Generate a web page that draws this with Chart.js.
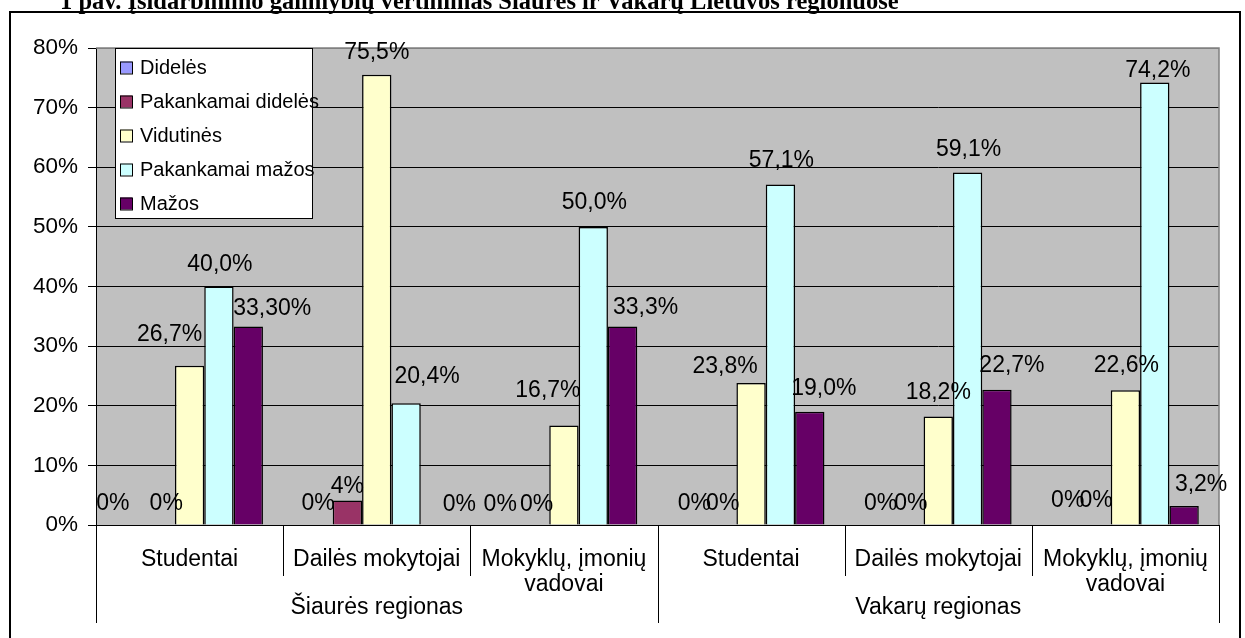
<!DOCTYPE html>
<html><head><meta charset="utf-8">
<script src="https://cdn.jsdelivr.net/npm/chart.js@4.4.1/dist/chart.umd.min.js"></script>
<style>html,body{margin:0;padding:0;background:#fff;} #wrap{position:relative;width:1245px;height:638px;overflow:hidden}</style>
</head><body><div id="wrap"><canvas id="c" width="1245" height="638"></canvas></div>
<script>
// ---- data ----
const chartTitle = '1 pav. Įsidarbinimo galimybių vertinimas Šiaurės ir Vakarų Lietuvos regionuose';
const categories = [['Studentai'], ['Dailės mokytojai'], ['Mokyklų, įmonių', 'vadovai'], ['Studentai'], ['Dailės mokytojai'], ['Mokyklų, įmonių', 'vadovai']];
const regions = ['Šiaurės regionas', 'Vakarų regionas'];
const regionSpans = [3, 3];
const seriesNames = ['Didelės', 'Pakankamai didelės', 'Vidutinės', 'Pakankamai mažos', 'Mažos'];
const didele = [0, 0, 0, 0, 0, 0];
const pakDidele = [0, 4.1, 0, 0, 0, 0];
const vidutine = [26.7, 75.5, 16.7, 23.8, 18.2, 22.6];
const pakMazos = [40.0, 20.4, 50.0, 57.1, 59.1, 74.2];
const mazos = [33.3, 0, 33.3, 19.0, 22.7, 3.2];
const lblDidele = ['0%', '0%', '0%', '0%', '0%', '0%'];
const lblPakDidele = ['0%', '4%', '0%', '0%', '0%', '0%'];
const lblVidutine = ['26,7%', '75,5%', '16,7%', '23,8%', '18,2%', '22,6%'];
const lblPakMazos = ['40,0%', '20,4%', '50,0%', '57,1%', '59,1%', '74,2%'];
const lblMazos = ['33,30%', '0%', '33,3%', '19,0%', '22,7%', '3,2%'];
const yTickLabels = ['0%', '10%', '20%', '30%', '40%', '50%', '60%', '70%', '80%'];

// ---- styles ----
const colors = ['#9999FF', '#993366', '#FFFFCC', '#CCFFFF', '#660066'];
const FONT = '"Liberation Sans", Arial, sans-serif';
// label nudges [dx, dy] per series per category (placement of data labels only)
const labelNudge = [
  [[-18, 1], [0, 1], [-5, 2], [2, 1], [1, 1], [1, -2]],
  [[6, 1], [0, 8.5], [2, 2], [1, 1], [2, 1], [0, -2]],
  [[-20, -9], [0, 0], [-16, -12.5], [-26, 6], [0, -1.5], [1, -2]],
  [[1, 0], [21, -4], [1, -2], [1, -1.5], [1, -0.5], [3, 10]],
  [[24, 4.5], [24, 2], [23, 3.5], [14, -1], [15, -1.7], [17, 1]]
];
const seriesValues = [didele, pakDidele, vidutine, pakMazos, mazos];
const seriesLabels = [lblDidele, lblPakDidele, lblVidutine, lblPakMazos, lblMazos];

const bgPlugin = {
  id: 'bg',
  beforeDraw(chart) {
    const { ctx, chartArea: a } = chart;
    ctx.save();
    ctx.fillStyle = '#fff';
    ctx.fillRect(0, 0, chart.width, chart.height);
    ctx.fillStyle = '#C0C0C0';
    ctx.fillRect(a.left, a.top, a.right - a.left, a.bottom - a.top);
    ctx.restore();
  },
  beforeDatasetsDraw(chart) {
    const { ctx, chartArea: a } = chart;
    ctx.save();
    ctx.strokeStyle = '#808080';
    ctx.lineWidth = 1.5;
    ctx.beginPath();
    ctx.moveTo(a.left, a.top);
    ctx.lineTo(a.right, a.top);
    ctx.lineTo(a.right, a.bottom);
    ctx.stroke();
    ctx.restore();
  },
  afterDatasetsDraw(chart) {
    const { ctx, chartArea: a } = chart;
    ctx.save();
    // data labels
    ctx.font = '23px ' + FONT;
    ctx.fillStyle = '#000';
    ctx.textAlign = 'center';
    ctx.textBaseline = 'alphabetic';
    chart.data.datasets.forEach((ds, di) => {
      const meta = chart.getDatasetMeta(di);
      meta.data.forEach((el, i) => {
        const t = seriesLabels[di][i];
        const n = labelNudge[di][i];
        ctx.fillText(t, el.x + n[0], el.y - 16 + n[1]);
      });
    });
    // legend
    const lx = a.left + 19, ly = a.top, lw = 197, lh = 170;
    ctx.fillStyle = '#fff';
    ctx.fillRect(lx, ly, lw, lh);
    ctx.strokeStyle = '#000';
    ctx.lineWidth = 1;
    ctx.strokeRect(lx + 0.5, ly + 0.5, lw, lh);
    ctx.font = '20px ' + FONT;
    ctx.textAlign = 'left';
    seriesNames.forEach((nm, i) => {
      const by = ly + 25.5 + i * 34;
      ctx.fillStyle = colors[i];
      ctx.fillRect(lx + 5, by - 12, 12, 12);
      ctx.strokeStyle = '#000';
      ctx.strokeRect(lx + 5.5, by - 11.5, 12, 12);
      ctx.fillStyle = '#000';
      ctx.fillText(nm, lx + 25, by);
    });
    ctx.restore();
  },
  afterDraw(chart) {
    const { ctx, chartArea: a } = chart;
    const xs = chart.scales.x;
    const n = categories.length;
    const bound = i => i === 0 ? xs.left : i === n ? xs.right : (xs.getPixelForValue(i - 1) + xs.getPixelForValue(i)) / 2;
    ctx.save();
    ctx.strokeStyle = '#000';
    ctx.lineWidth = 1;
    const groupEdges = [0];
    regionSpans.reduce((s, v) => { groupEdges.push(s + v); return s + v; }, 0);
    for (let i = 0; i <= n; i++) {
      const x = Math.round(bound(i)) + 0.5;
      const long = groupEdges.includes(i);
      ctx.beginPath();
      ctx.moveTo(x, a.bottom);
      ctx.lineTo(x, a.bottom + (long ? 98 : 51));
      ctx.stroke();
    }
    ctx.font = '23px ' + FONT;
    ctx.fillStyle = '#000';
    ctx.textAlign = 'center';
    ctx.textBaseline = 'alphabetic';
    regions.forEach((r, gi) => {
      const c = (bound(groupEdges[gi]) + bound(groupEdges[gi + 1])) / 2;
      ctx.fillText(r, c, a.bottom + 89);
    });
    // outer frame
    ctx.lineWidth = 2;
    ctx.strokeRect(10, 12, 1230, 640);
    // title
    ctx.font = 'bold 24.5px "Liberation Serif", "Times New Roman", serif';
    ctx.textAlign = 'left';
    ctx.fillText(chartTitle, 60, 9);
    ctx.restore();
  }
};

new Chart(document.getElementById('c'), {
  type: 'bar',
  data: {
    labels: categories,
    datasets: seriesNames.map((nm, i) => ({
      label: nm,
      data: seriesValues[i],
      backgroundColor: colors[i],
      borderColor: '#000',
      borderWidth: 1.5,
      barPercentage: 1,
      categoryPercentage: 0.784
    }))
  },
  options: {
    responsive: false,
    animation: false,
    layout: { padding: { left: 0, top: 48, right: 26, bottom: 0 } },
    plugins: { legend: { display: false }, tooltip: { enabled: false }, title: { display: false } },
    scales: {
      x: {
        grid: { display: false },
        border: { display: true, color: '#000', width: 1 },
        ticks: { font: { family: FONT, size: 23, lineHeight: 1.087 }, color: '#000', padding: 14, maxRotation: 0, minRotation: 0, autoSkip: false },
        afterFit(s) { s.height = 113; }
      },
      y: {
        min: 0, max: 80,
        ticks: { stepSize: 10, callback: (v, i) => yTickLabels[i], font: { family: FONT, size: 22.5 }, color: '#000', padding: 10 },
        grid: { color: c => (c.tick && c.tick.value === 80) ? '#808080' : '#000', tickColor: '#000', tickLength: 8, lineWidth: 1 },
        border: { color: '#000', width: 1 },
        afterFit(s) { s.width = 96; }
      }
    }
  },
  plugins: [bgPlugin]
});
</script></body></html>
